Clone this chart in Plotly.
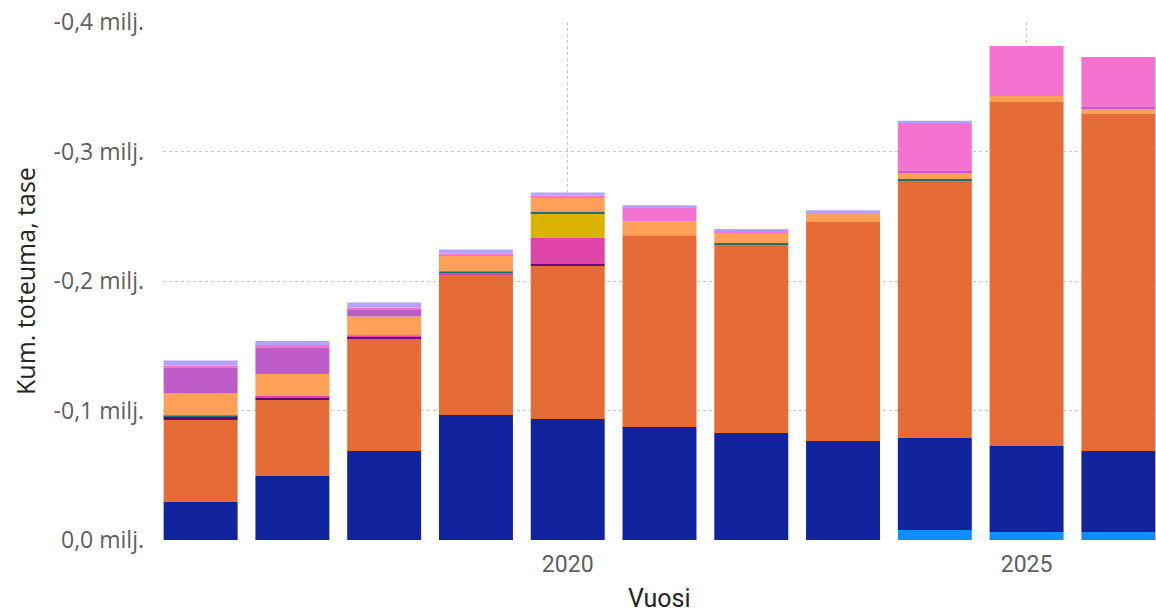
import plotly.graph_objects as go

years = [2016, 2017, 2018, 2019, 2020, 2021, 2022, 2023, 2024, 2025, 2026]

# Values (euros, negative balance), stacked bottom -> top
series_names = [
    "Sarja A", "Sarja B", "Sarja C", "Sarja D", "Sarja E", "Sarja F",
    "Sarja G", "Sarja H", "Sarja I", "Sarja J", "Sarja K",
]
light_blue = [0, 0, 0, 0, 0, 0, 0, 0, -7700, -6200, -6200]
dark_blue = [-29300, -49400, -68700, -96500, -93400, -87200, -82600, -76400, -71000, -66400, -62500]
orange = [-63300, -58700, -87200, -108900, -118900, -148200, -145900, -169100, -199200, -265600, -260200]
dark_purple = [-3100, -2300, -1200, 0, -800, 0, 0, 0, 0, 0, 0]
magenta = [0, -800, -800, -1200, -20100, 0, 0, 0, 0, 0, 0]
yellow = [0, 0, 0, 0, -19300, 0, 0, 0, 0, 0, 0]
teal = [-500, 0, 0, -800, -1200, 0, -800, 0, -800, 0, 0]
light_orange = [-17000, -17000, -14700, -12400, -10800, -10800, -8500, -7700, -5400, -4600, -4600]
purple = [-20100, -20100, -5400, 0, 0, 0, 0, 0, -800, 0, -800]
pink = [-1500, -2300, -1500, -1500, -1500, -10800, -1500, 0, -37800, -38600, -38600]
lavender = [-3900, -3100, -3900, -3100, -2300, -1500, -800, -1500, -1000, 0, 0]

series_values = [light_blue, dark_blue, orange, dark_purple, magenta, yellow,
                 teal, light_orange, purple, pink, lavender]
series_colors = ["#118DFF", "#12239E", "#E66C37", "#6B007B", "#E044A7", "#D9B300",
                 "#197278", "#FFA058", "#BE5DC9", "#F472D0", "#B5A1FF"]

y_tickvals = [0, -100000, -200000, -300000, -400000]
y_ticktext = ["0,0 milj.", "-0,1 milj.", "-0,2 milj.", "-0,3 milj.", "-0,4 milj."]
x_tickvals = [2020, 2025]

fig = go.Figure()
for name, vals, col in zip(series_names, series_values, series_colors):
    fig.add_trace(go.Bar(x=years, y=vals, name=name, marker_color=col,
                         marker_line_width=0))

grid_col = "#C8C6C4"
fig.update_layout(
    width=1156, height=614,
    barmode="relative", bargap=0.194,
    showlegend=False,
    plot_bgcolor="white", paper_bgcolor="white",
    margin=dict(l=163, r=0, t=22, b=74),
    font=dict(family="Open Sans, sans-serif", color="#605E5C"),
    xaxis=dict(
        range=[2015.59, 2026.41], tickvals=x_tickvals,
        tickfont=dict(size=23, color="#605E5C", family="Roboto, sans-serif"),
        showgrid=True, gridcolor=grid_col, griddash="dot", gridwidth=1,
        zeroline=False, showline=False, ticks="", ticklabelstandoff=8,
    ),
    yaxis=dict(
        range=[0, -400000], tickvals=y_tickvals, ticktext=y_ticktext,
        tickfont=dict(size=23, color="#605E5C"),
        showgrid=True, gridcolor=grid_col, griddash="dot", gridwidth=1,
        zeroline=False, showline=False, ticks="", ticklabelstandoff=18,
    ),
    annotations=[
        dict(text="Vuosi", xref="paper", yref="paper", x=0.5, y=-0.112,
             xanchor="center", yanchor="middle", showarrow=False,
             font=dict(size=25, color="#252423", family="Roboto, sans-serif")),
        dict(text="Kum. toteuma, tase", xref="paper", yref="paper", x=-0.139, y=0.5,
             xanchor="center", yanchor="middle", textangle=-90, showarrow=False,
             font=dict(size=25, color="#252423", family="Open Sans, sans-serif")),
    ],
)

fig.write_html(
    "out.html",
    config={"displayModeBar": False},
    post_script="document.body.style.margin='0px';document.body.style.overflow='hidden';",
)
